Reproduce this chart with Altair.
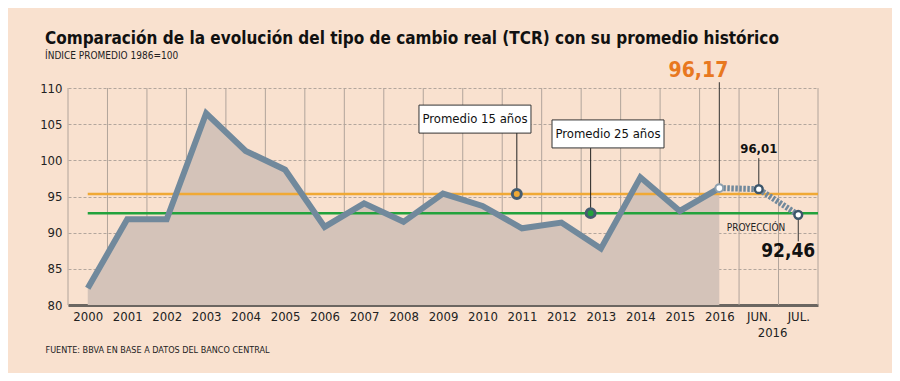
import altair as alt
import pandas as pd

# ---------------- data ----------------
categories = ["2000", "2001", "2002", "2003", "2004", "2005", "2006", "2007", "2008",
              "2009", "2010", "2011", "2012", "2013", "2014", "2015", "2016", "JUN.", "JUL."]
tcr_hist = [82.3, 91.85, 91.85, 106.5, 101.3, 98.7, 90.8, 94.05, 91.5,
            95.4, 93.7, 90.6, 91.4, 87.8, 97.65, 93.0, 96.17]
proj_labels = ["2016", "JUN.", "JUL."]
tcr_proj = [96.17, 96.01, 92.46]
avg15 = 95.35
avg25 = 92.7
y_ticks = [80, 85, 90, 95, 100, 105, 110]

FONT = "DejaVu Sans Condensed"
BG = "#f9e1cf"
LINE = "#71899c"
DARK = "#3d566b"
ORANGE = "#f0a935"
GREEN = "#22a23c"

W, H = 750, 217
YMIN, YMAX = 80, 110

idx = {c: i for i, c in enumerate(categories)}
hist_df = pd.DataFrame({"cat": categories[:len(tcr_hist)], "v": tcr_hist})
hist_df["i"] = hist_df["cat"].map(idx)
proj_df = pd.DataFrame({"cat": proj_labels, "v": tcr_proj})
proj_df["i"] = proj_df["cat"].map(idx)
bounds_df = pd.DataFrame({"b": [i - 0.5 for i in range(len(categories) + 1)]})

label_expr = "[" + ",".join("'%s'" % c for c in categories) + "][datum.value]"

xscale = alt.Scale(domain=[-0.5, len(categories) - 0.5], nice=False, zero=False)
yscale = alt.Scale(domain=[YMIN, YMAX], nice=False, zero=False)

x_axis = alt.Axis(values=list(range(len(categories))), labelExpr=label_expr, grid=False,
                  ticks=False, domain=True, domainColor="#6b6661", domainWidth=3,
                  labelFont=FONT, labelFontSize=13, labelColor="#222", labelPadding=5,
                  title="FUENTE: BBVA EN BASE A DATOS DEL BANCO CENTRAL",
                  titleFont=FONT, titleFontSize=9, titleFontWeight="normal", titleColor="#222",
                  titleAnchor="start", titleAlign="left", titleX=-23, titleY=44,
                  titleBaseline="middle")
y_axis = alt.Axis(values=y_ticks, grid=True, gridColor="#b3a69d", gridDash=[3, 2],
                  gridWidth=1, ticks=False, domain=False, labelFont=FONT, labelFontSize=13,
                  labelColor="#222", labelPadding=6, title=None)

base_x = alt.X("i:Q", scale=xscale, axis=x_axis)

# vertical grid (band boundaries)
vgrid = alt.Chart(bounds_df).mark_rule(color="#b1a49b", strokeWidth=1).encode(
    x=alt.X("b:Q", scale=xscale, axis=x_axis)
)

# area under historical series
area = alt.Chart(hist_df).mark_area(color="#d4c3b9", opacity=1).encode(
    x=base_x,
    y=alt.Y("v:Q", scale=yscale, axis=y_axis),
    y2=alt.datum(YMIN),
)

# average rules
avg_df = pd.DataFrame({"name": ["15", "25"], "v": [avg15, avg25],
                       "start": [0, 0], "end": [len(categories) - 0.5] * 2})
avg_rules = alt.Chart(avg_df).mark_rule(strokeWidth=2.5).encode(
    x=alt.X("start:Q", scale=xscale, axis=x_axis),
    x2="end:Q",
    y=alt.Y("v:Q", scale=yscale, axis=y_axis),
    color=alt.Color("name:N", scale=alt.Scale(domain=["15", "25"], range=[ORANGE, GREEN]),
                    legend=None),
)

line = alt.Chart(hist_df).mark_line(color=LINE, strokeWidth=6).encode(
    x=base_x, y=alt.Y("v:Q", scale=yscale, axis=y_axis)
)

proj_line = alt.Chart(proj_df).mark_line(color=LINE, strokeWidth=6, strokeDash=[2.5, 1.5]).encode(
    x=base_x, y=alt.Y("v:Q", scale=yscale, axis=y_axis)
)

# annotation geometry (layout, in data units)
ann = pd.DataFrame({
    "name": ["15", "25"],
    "mx": [10.87, 12.74],
    "my": [avg15, avg25],
    "bx": [9.81, 13.18],
    "by": [105.7, 103.65],
    "btop": [103.8, 101.7],
    "text": ["Promedio 15 años", "Promedio 25 años"],
})

leaders_avg = alt.Chart(ann).mark_rule(color="#222", strokeWidth=1).encode(
    x=alt.X("mx:Q", scale=xscale, axis=x_axis), y=alt.Y("my:Q", scale=yscale, axis=y_axis),
    y2="btop:Q",
)
markers = alt.Chart(ann).mark_point(filled=True, size=80, strokeWidth=3, stroke="#465d71",
                                    opacity=1, shape="circle").encode(
    x=alt.X("mx:Q", scale=xscale, axis=x_axis), y=alt.Y("my:Q", scale=yscale, axis=y_axis),
    fill=alt.Fill("name:N", scale=alt.Scale(domain=["15", "25"], range=[ORANGE, GREEN]),
                  legend=None),
)
box_shape = "M-1,-0.25L1,-0.25L1,0.25L-1,0.25Z"
boxes = alt.Chart(ann).mark_point(shape=box_shape, size=112 * 112, filled=True, fill="white",
                                  stroke="#333", strokeWidth=1, opacity=1).encode(
    x=alt.X("bx:Q", scale=xscale, axis=x_axis), y=alt.Y("by:Q", scale=yscale, axis=y_axis),
)
box_text = alt.Chart(ann).mark_text(font=FONT, fontSize=13, color="#111").encode(
    x=alt.X("bx:Q", scale=xscale, axis=x_axis), y=alt.Y("by:Q", scale=yscale, axis=y_axis),
    text="text:N",
)

# value labels
val_df = pd.DataFrame({
    "cat": proj_labels,
    "v": tcr_proj,
    "label": ["96,17", "96,01", "92,46"],
    "ly": [112.4, 101.5, 87.4],
    "lend": [110.8, 100.3, 88.8],
})
val_df["i"] = val_df["cat"].map(idx)

leaders_val = alt.Chart(val_df).mark_rule(color="#333", strokeWidth=1).encode(
    x=base_x, y=alt.Y("v:Q", scale=yscale, axis=y_axis), y2="lend:Q"
)

lbl_9617 = alt.Chart(val_df.iloc[[0]]).mark_text(font=FONT, fontSize=21, fontWeight="bold",
                                                 color="#e8781f", align="right", dx=9).encode(
    x=base_x, y=alt.Y("ly:Q", scale=yscale, axis=y_axis), text="label:N"
)
lbl_9601 = alt.Chart(val_df.iloc[[1]]).mark_text(font=FONT, fontSize=13, fontWeight="bold",
                                                 color="#111").encode(
    x=base_x, y=alt.Y("ly:Q", scale=yscale, axis=y_axis), text="label:N"
)
lbl_9246 = alt.Chart(val_df.iloc[[2]]).mark_text(font=FONT, fontSize=19, fontWeight="bold",
                                                 color="#111", align="right", dx=17).encode(
    x=base_x, y=alt.Y("ly:Q", scale=yscale, axis=y_axis), text="label:N"
)

proy_df = pd.DataFrame({"i": [16.93], "v": [90.6], "t": ["PROYECCIÓN"]})
proy = alt.Chart(proy_df).mark_text(font=FONT, fontSize=10, color="#222").encode(
    x=alt.X("i:Q", scale=xscale, axis=x_axis), y=alt.Y("v:Q", scale=yscale, axis=y_axis),
    text="t:N",
)

yr_df = pd.DataFrame({"i": [17.35], "t": ["2016"]})
yr = alt.Chart(yr_df).mark_text(font=FONT, fontSize=13, color="#222", baseline="middle").encode(
    x=alt.X("i:Q", scale=xscale, axis=x_axis), y=alt.value(H + 28), text="t:N"
)

# end points
pts_first = alt.Chart(proj_df.iloc[[0]]).mark_point(filled=True, fill="white", stroke="#8ea0ae",
                                                    strokeWidth=2, size=60, opacity=1).encode(
    x=base_x, y=alt.Y("v:Q", scale=yscale, axis=y_axis)
)
pts_proj = alt.Chart(proj_df.iloc[1:]).mark_point(filled=True, fill="white", stroke=DARK,
                                                  strokeWidth=2.5, size=60, opacity=1).encode(
    x=base_x, y=alt.Y("v:Q", scale=yscale, axis=y_axis)
)

chart = alt.layer(
    vgrid, area, avg_rules, line, proj_line, leaders_avg, markers, boxes, box_text,
    leaders_val, pts_first, pts_proj, lbl_9617, lbl_9601, lbl_9246, proy, yr,
).properties(
    width=W, height=H,
    autosize=alt.AutoSizeParams(type="none"),
    padding={"left": 60, "top": 80, "right": 74, "bottom": 68},
    title=alt.TitleParams(
        text="Comparación de la evolución del tipo de cambio real (TCR) con su promedio histórico",
        subtitle="ÍNDICE PROMEDIO 1986=100",
        anchor="start", frame="group", dx=-23, offset=-2,
        font=FONT, fontSize=17, fontWeight="bold", color="#111",
        subtitleFont=FONT, subtitleFontSize=10, subtitleColor="#222", subtitlePadding=3,
    ),
).configure(background=BG).configure_view(stroke=None)

chart.save("out.html", embed_options={"renderer": "svg", "actions": False})
